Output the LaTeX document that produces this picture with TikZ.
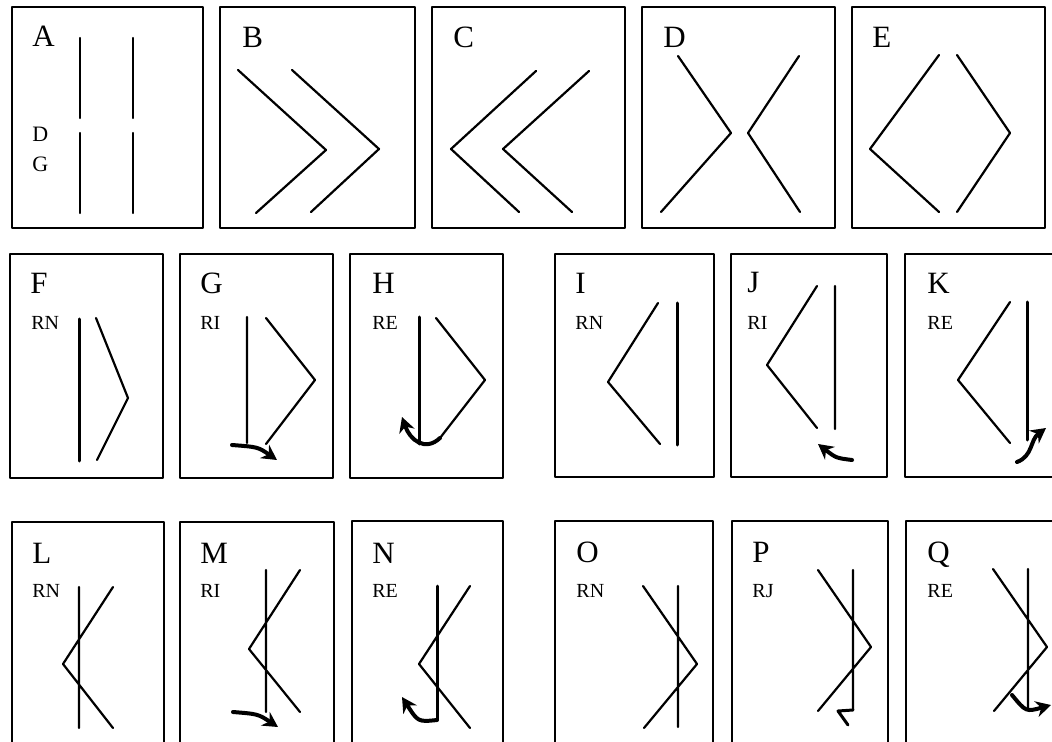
\documentclass[tikz,border=0pt]{standalone}
\usepackage{fontspec}
\setmainfont{Liberation Serif}
\usetikzlibrary{arrows.meta}
\tikzset{
  every picture/.style={line join=round, line cap=round, >=Stealth},
  frame/.style={line width=0.9pt},
  bar/.style={line width=1.1pt},
  heavybar/.style={line width=1.5pt},
  twist/.style={line width=2pt,-{Stealth[length=7.5pt,width=8pt]}},
  letter/.style={font=\fontsize{15.5}{17}\selectfont, anchor=base west, inner sep=0pt},
  mode/.style={font=\fontsize{10}{11}\selectfont, anchor=base west, inner sep=0pt},
  tick/.style={font=\fontsize{11}{12}\selectfont, anchor=base west, inner sep=0pt},
}
\begin{document}
\begin{tikzpicture}[x=0.5pt,y=-0.5pt]
\useasboundingbox(0,0)rectangle(1052,742);
% frames
\draw[frame](12,7)rectangle(203,228) (220,7)rectangle(415,228) (432,7)rectangle(625,228)
(642,7)rectangle(835,228) (852,7)rectangle(1045,228);
\draw[frame](10,254)rectangle(163,478) (180,254)rectangle(333,478) (350,254)rectangle(503,478)
(555,254)rectangle(714,477) (731,254)rectangle(887,477);
\draw[frame](1052,254)--(905,254)--(905,477)--(1052,477);
\draw[frame](12,742)--(12,522)--(164,522)--(164,742)
(180,742)--(180,522)--(334,522)--(334,742)
(352,742)--(352,521)--(503,521)--(503,742)
(555,742)--(555,521)--(713,521)--(713,742)
(732,742)--(732,521)--(888,521)--(888,742);
\draw[frame](1052,521)--(906,521)--(906,742);
% top row
\node[letter](tA)at(32,47){A};
\node[tick](tD)at(32,142){D};
\node[tick](tG)at(32,172){G};
\draw[bar](80,38)--(80,118) (80,133)--(80,213) (133,38)--(133,118) (133,133)--(133,213);
\node[letter](tB)at(242,48){B};
\draw[bar](238,70)--(326,150)--(256,213) (292,70)--(379,149)--(311,212);
\node[letter](tC)at(453,48){C};
\draw[bar](536,71)--(451,149)--(519,212) (589,71)--(503,149)--(572,212);
\node[letter](tDD)at(663,48){D};
\draw[bar](678,56)--(731,133)--(661,212) (799,56)--(748,133)--(800,212);
\node[letter](tE)at(872,48){E};
\draw[bar](939,55)--(870,149)--(939,212) (957,55)--(1010,133)--(957,212);
% middle row
\node[letter](tF)at(30,294){F};
\node[mode](mF)at(31,330){RN};
\draw[heavybar](79,319)--(79,461);
\draw[bar](96,318)--(128,398)--(97,460);
\node[letter](tGG)at(200,294){G};
\node[mode](mG)at(200,330){RI};
\draw[bar](247,317)--(247,443) (266,318)--(315,380)--(266,444);
\draw[twist](232,445)..controls(258,447)..(277,460);
\node[letter](tH)at(372,294){H};
\node[mode](mH)at(372,330){RE};
\draw[heavybar](419,317)--(419,444);
\draw[bar](436,318)--(485,380)--(440,438);
\draw[twist](440,438)..controls(425,452)and(410,440)..(402,417);
\node[letter](tI)at(575,294){I};
\node[mode](mI)at(575,329){RN};
\draw[bar](658,303)--(608,382)--(660,444);
\draw[heavybar](677,303)--(677,445);
\node[letter](tJ)at(747,293){J};
\node[mode](mJ)at(747,329){RI};
\draw[bar](817,286)--(767,365)--(817,428) (835,286)--(835,429);
\draw[twist](852,460)..controls(836,458)..(818,444);
\node[letter](tK)at(927,294){K};
\node[mode](mK)at(927,329){RE};
\draw[bar](1010,302)--(958,380)--(1010,443);
\draw[heavybar](1027,302)--(1027,440);
\draw[twist](1017,462)..controls(1033,456)and(1030,440)..(1046,428);
% bottom row
\node[letter](tL)at(32,563){L};
\node[mode](mL)at(32,597){RN};
\draw[bar](79,587)--(79,728) (113,587)--(63,664)--(113,728);
\node[letter](tM)at(200,563){M};
\node[mode](mM)at(200,597){RI};
\draw[bar](266,570)--(266,712) (300,570)--(249,649)--(300,712);
\draw[twist](233,712)..controls(258,714)..(278,727);
\node[letter](tN)at(372,563){N};
\node[mode](mN)at(372,597){RE};
\draw[heavybar](437,586)--(437,720);
\draw[bar](470,586)--(419,664)--(470,728);
\draw[twist](437,720)..controls(418,722)..(402,697);
\node[letter](tO)at(576,562){O};
\node[mode](mO)at(576,597){RN};
\draw[bar](643,586)--(697,664)--(644,728) (678,586)--(678,727);
\node[letter](tP)at(752,562){P};
\node[mode](mP)at(752,597){RJ};
\draw[bar](818,570)--(871,647)--(818,711) (853,570)--(853,710);
\draw[heavybar](853,710)--(838,711)--(848,725);
\node[letter](tQ)at(927,562){Q};
\node[mode](mQ)at(927,597){RE};
\draw[bar](993,569)--(1047,647)--(994,711) (1028,569)--(1028,708);
\draw[twist](1012,695)..controls(1026,712)..(1051,705);
\end{tikzpicture}
\end{document}
